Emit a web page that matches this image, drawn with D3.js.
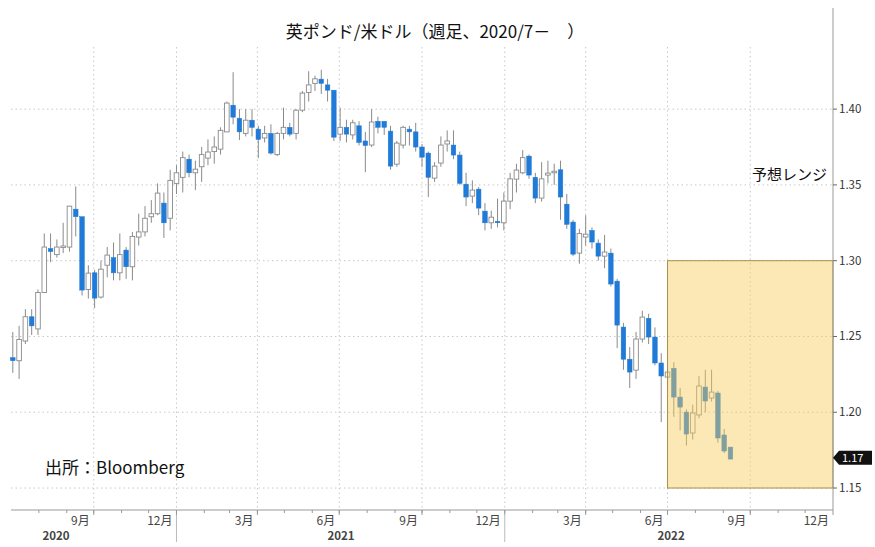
<!DOCTYPE html>
<html><head><meta charset="utf-8">
<script src="https://cdn.jsdelivr.net/npm/d3@7"></script>
<style>body{margin:0;background:#fff}text{font-family:"Noto Sans CJK JP","Noto Sans",sans-serif}</style>
</head><body><svg id="c" width="875" height="547"></svg>
<script>
const startWeek = "2020-07-03";
const opens  = [1.236,1.234,1.247,1.263,1.255,1.279,1.308,1.304,1.309,1.309,1.334,1.329,1.281,1.292,1.276,1.297,1.302,1.292,1.307,1.296,1.3156,1.319,1.329,1.331,1.338,1.328,1.351,1.355,1.367,1.358,1.362,1.3677,1.372,1.3736,1.385,1.4026,1.394,1.384,1.3927,1.3868,1.381,1.384,1.370,1.384,1.388,1.384,1.3993,1.411,1.417,1.4198,1.416,1.4125,1.3835,1.388,1.383,1.389,1.379,1.3763,1.392,1.392,1.3855,1.3637,1.3763,1.3868,1.385,1.375,1.371,1.3545,1.3644,1.377,1.3763,1.3697,1.3505,1.3426,1.3472,1.3327,1.325,1.326,1.325,1.3393,1.3538,1.358,1.369,1.355,1.3413,1.3565,1.358,1.36,1.3373,1.3255,1.305,1.3156,1.32,1.3116,1.303,1.305,1.2865,1.2562,1.235,1.2278,1.2483,1.262,1.2496,1.2325,1.2232,1.229,1.21,1.2001,1.1863,1.1982,1.2166,1.2094,1.2127,1.185,1.177];
const highs  = [1.253,1.257,1.268,1.268,1.281,1.318,1.318,1.314,1.325,1.336,1.349,1.329,1.297,1.294,1.300,1.309,1.312,1.318,1.309,1.319,1.331,1.336,1.340,1.351,1.345,1.360,1.363,1.372,1.370,1.366,1.375,1.380,1.382,1.388,1.405,1.4244,1.400,1.400,1.400,1.389,1.389,1.390,1.385,1.401,1.391,1.400,1.412,1.425,1.422,1.426,1.420,1.4125,1.401,1.393,1.393,1.392,1.385,1.400,1.395,1.392,1.389,1.379,1.389,1.389,1.391,1.377,1.372,1.365,1.382,1.386,1.386,1.372,1.358,1.353,1.3486,1.338,1.333,1.341,1.345,1.358,1.364,1.373,1.370,1.358,1.365,1.366,1.364,1.366,1.344,1.327,1.321,1.330,1.322,1.314,1.317,1.308,1.288,1.259,1.243,1.253,1.267,1.265,1.256,1.239,1.232,1.233,1.216,1.202,1.205,1.224,1.228,1.228,1.214,1.189,1.177];
const lows   = [1.226,1.222,1.245,1.251,1.251,1.279,1.299,1.302,1.305,1.306,1.316,1.277,1.275,1.2688,1.275,1.289,1.287,1.287,1.288,1.287,1.310,1.316,1.325,1.330,1.315,1.320,1.344,1.345,1.355,1.3466,1.352,1.363,1.364,1.370,1.385,1.390,1.3796,1.382,1.382,1.3677,1.378,1.370,1.369,1.380,1.382,1.380,1.398,1.405,1.412,1.410,1.405,1.379,1.379,1.378,1.380,1.376,1.3584,1.375,1.384,1.383,1.360,1.362,1.374,1.376,1.372,1.3617,1.342,1.352,1.362,1.372,1.367,1.350,1.336,1.338,1.330,1.320,1.321,1.322,1.320,1.334,1.345,1.357,1.354,1.338,1.339,1.351,1.350,1.327,1.321,1.303,1.298,1.310,1.308,1.300,1.295,1.283,1.2423,1.228,1.216,1.222,1.246,1.245,1.231,1.1935,1.215,1.197,1.188,1.178,1.182,1.196,1.200,1.207,1.180,1.173,1.169];
const closes = [1.234,1.248,1.263,1.257,1.279,1.309,1.306,1.309,1.3097,1.336,1.329,1.2806,1.2918,1.2753,1.2944,1.3037,1.292,1.304,1.296,1.316,1.319,1.328,1.331,1.3446,1.325,1.353,1.358,1.368,1.358,1.3604,1.370,1.3717,1.375,1.386,1.404,1.3947,1.385,1.3927,1.388,1.380,1.384,1.371,1.384,1.388,1.3835,1.3993,1.4106,1.416,1.420,1.417,1.4125,1.3815,1.388,1.3835,1.391,1.378,1.376,1.3915,1.388,1.388,1.3624,1.3776,1.388,1.385,1.375,1.3683,1.355,1.3624,1.3763,1.379,1.3697,1.351,1.342,1.3466,1.3347,1.325,1.3287,1.3253,1.3393,1.354,1.3598,1.368,1.3565,1.3413,1.354,1.3578,1.359,1.342,1.324,1.3043,1.318,1.3175,1.3123,1.303,1.3057,1.2846,1.2575,1.235,1.2265,1.2483,1.2628,1.2496,1.2325,1.2239,1.2265,1.21,1.2034,1.1856,1.1995,1.2173,1.2074,1.2133,1.183,1.1744,1.1691];
const yTicks = [1.15,1.20,1.25,1.30,1.35,1.40];
const monthLabels = ["9月","12月","3月","6月","9月","12月","3月","6月","9月","12月"];
const monthEnds = ["2020-10-01","2021-01-01","2021-04-01","2021-07-01","2021-10-01","2022-01-01","2022-04-01","2022-07-01","2022-10-01","2023-01-01"];
const yearLabels = ["2020","2021","2022"];
const yearLabelDates = ["2020-08-20","2021-07-03","2022-07-05"];
const rangeLow = 1.15, rangeHigh = 1.30, rangeStart = "2022-07-01", rangeEnd = "2023-01-01";
const lastPrice = 1.17;

const P = d3.timeParse("%Y-%m-%d");
const svg = d3.select("#c");
const X0 = 11, X1 = 833;
const x = d3.scaleTime().domain([P("2020-07-01"), P("2023-01-01")]).range([X0, X1]);
const y = d3.scaleLinear().domain([1.1355, 1.441]).range([510, 47]);
const data = closes.map((c,i)=>({d:d3.timeWeek.offset(P(startWeek), i), o:opens[i], h:highs[i], l:lows[i], c}));

const grid = svg.append("g").attr("stroke","#c8c8c8").attr("stroke-dasharray","1.5,3");
yTicks.forEach(t=>grid.append("line").attr("x1",X0).attr("x2",X1).attr("y1",y(t)).attr("y2",y(t)));
monthEnds.slice(0,-1).forEach(m=>grid.append("line").attr("x1",x(P(m))).attr("x2",x(P(m))).attr("y1",47).attr("y2",510));

const w = 4.6;
const cg = svg.append("g");
data.forEach(d=>{
  const up = d.c >= d.o, cx = x(d.d);
  cg.append("line").attr("x1",cx).attr("x2",cx).attr("y1",y(d.h)).attr("y2",y(d.l)).attr("stroke","#8a8a8a").attr("stroke-width",1);
  const y0 = y(Math.max(d.o,d.c)), y1 = y(Math.min(d.o,d.c));
  cg.append("rect").attr("x",cx-w/2).attr("width",w).attr("y",y0).attr("height",Math.max(1.5,y1-y0))
    .attr("fill", up ? "#fff" : "#1f7ad8").attr("stroke", up ? "#8a8a8a" : "#1f7ad8").attr("stroke-width", up ? 0.9 : 0.5);
});

svg.append("rect").attr("x",x(P(rangeStart))).attr("y",y(rangeHigh))
  .attr("width",x(P(rangeEnd))-x(P(rangeStart))).attr("height",y(rangeLow)-y(rangeHigh))
  .attr("fill","#f6cc59").attr("fill-opacity",0.45).attr("stroke","#a8924a").attr("stroke-width",1);

svg.append("line").attr("x1",X1).attr("x2",X1).attr("y1",8).attr("y2",510).attr("stroke","#9a9a9a");
svg.append("line").attr("x1",X0).attr("x2",X1).attr("y1",510).attr("y2",510).attr("stroke","#9a9a9a");
yTicks.forEach(t=>{
  svg.append("line").attr("x1",X1).attr("x2",X1+4).attr("y1",y(t)).attr("y2",y(t)).attr("stroke","#666");
  svg.append("text").attr("x",X1+6).attr("y",y(t)+4).attr("font-size",11.5).attr("fill","#333").text(t.toFixed(2));
});
d3.timeMonth.range(P("2020-08-01"), P("2023-01-01")).forEach(m=>{
  svg.append("line").attr("x1",x(m)).attr("x2",x(m)).attr("y1",510).attr("y2",513).attr("stroke","#999");
});
monthEnds.forEach((m,i)=>{
  svg.append("line").attr("x1",x(P(m))).attr("x2",x(P(m))).attr("y1",510).attr("y2",515).attr("stroke","#999");
  svg.append("text").attr("x",x(P(m))-4).attr("y",525).attr("text-anchor","end").attr("font-size",12).attr("fill","#444").text(monthLabels[i]);
});
["2021-01-01","2022-01-01"].forEach(m=>svg.append("line").attr("x1",x(P(m))).attr("x2",x(P(m))).attr("y1",515).attr("y2",542).attr("stroke","#bbb"));
yearLabels.forEach((t,i)=>svg.append("text").attr("x",x(P(yearLabelDates[i]))).attr("y",540).attr("text-anchor","middle").attr("font-size",11.5).attr("font-weight","bold").attr("fill","#444").text(t));

const ly = y(lastPrice);
svg.append("path").attr("d",`M${X1},${ly} L${X1+6},${ly-7} L872,${ly-7} L872,${ly+7} L${X1+6},${ly+7} Z`).attr("fill","#111");
svg.append("text").attr("x",X1+9).attr("y",ly+4).attr("font-size",11).attr("fill","#fff").text(lastPrice.toFixed(2));

svg.append("text").attr("x",435).attr("y",38).attr("text-anchor","middle").attr("font-size",17).attr("fill","#111").text("英ポンド/米ドル（週足、2020/7－　）");
svg.append("text").attr("x",827).attr("y",180).attr("text-anchor","end").attr("font-size",15).attr("fill","#111").text("予想レンジ");
svg.append("text").attr("x",45).attr("y",474).attr("font-size",17).attr("fill","#111").text("出所：Bloomberg");
</script></body></html>
